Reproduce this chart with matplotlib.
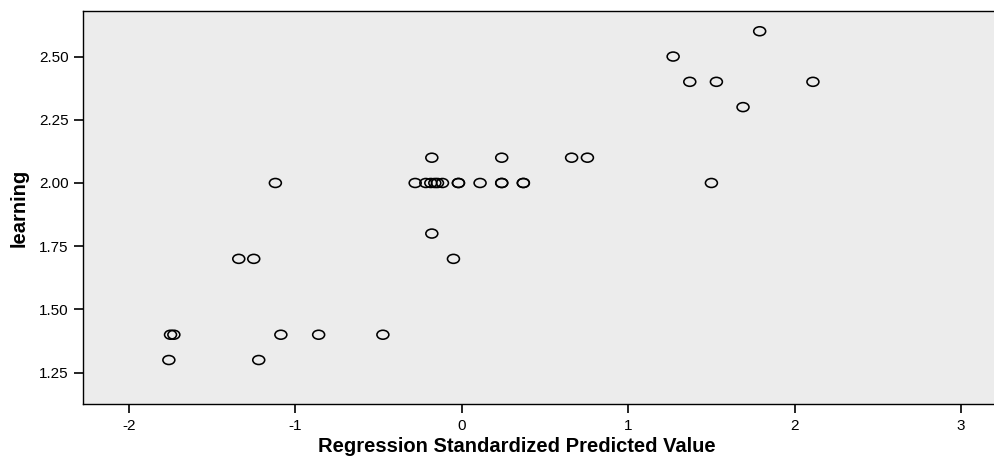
import numpy as np
import matplotlib
matplotlib.use("Agg")
import matplotlib.pyplot as plt
from matplotlib.path import Path
from matplotlib.transforms import Affine2D

plt.rcParams['font.family'] = ['Liberation Sans', 'DejaVu Sans']
plt.rcParams['axes.unicode_minus'] = False

# regression standardized predicted value vs. learning
pred = [1.27, 1.79, 1.37, 1.53, 1.69, 1.50, 2.11,
        -1.12, -1.34, -1.25,
        -0.18, 0.24, 0.66, 0.755,
        -0.28, -0.216, -0.186, -0.162, -0.146, -0.116, -0.02, -0.02, 0.11, 0.24, 0.24, 0.37, 0.37,
        -0.18, -0.05,
        -1.75, -1.73, -1.087, -0.86, -0.474,
        -1.76, -1.22]
learning = [2.50, 2.60, 2.40, 2.40, 2.30, 2.00, 2.40,
            2.00, 1.70, 1.70,
            2.10, 2.10, 2.10, 2.10,
            2.00, 2.00, 2.00, 2.00, 2.00, 2.00, 2.00, 2.00, 2.00, 2.00, 2.00, 2.00, 2.00,
            1.80, 1.70,
            1.40, 1.40, 1.40, 1.40, 1.40,
            1.30, 1.30]

xticks = [-2, -1, 0, 1, 2, 3]
yticks = [1.25, 1.50, 1.75, 2.00, 2.25, 2.50]

# flattened circle marker like SPSS
ellipse = Path.unit_circle().transformed(Affine2D().scale(1.0, 0.75))

fig = plt.figure(figsize=(9.95, 4.61), dpi=100)
ax = fig.add_axes([0.0834, 0.1236, 0.9166, 0.8525])
ax.set_facecolor('#ececec')

ax.scatter(pred, learning, s=8.6**2, marker=ellipse, facecolors='none',
           edgecolors='black', linewidths=1.15, zorder=3)

ax.set_xlim(-2.276, 3.204)
ax.set_ylim(1.126, 2.68)
ax.set_xticks(xticks)
ax.set_xticklabels([str(v) for v in xticks])
ax.set_yticks(yticks)
ax.set_yticklabels(['%.2f' % v for v in yticks])
ax.spines['right'].set_visible(False)
for s in ['top', 'left', 'bottom']:
    ax.spines[s].set_linewidth(1.0)
    ax.spines[s].set_color('black')
ax.tick_params(direction='out', length=6.5, width=1.2, labelsize=11, color='black', pad=4)

ax.set_xlabel('Regression Standardized Predicted Value', fontsize=14.5, fontweight='bold')
ax.xaxis.set_label_coords(0.476, -0.083)
ax.set_ylabel('learning', fontsize=14.5, fontweight='bold')
ax.yaxis.set_label_coords(-0.060, 0.5)

fig.savefig('out.png', dpi=100)
